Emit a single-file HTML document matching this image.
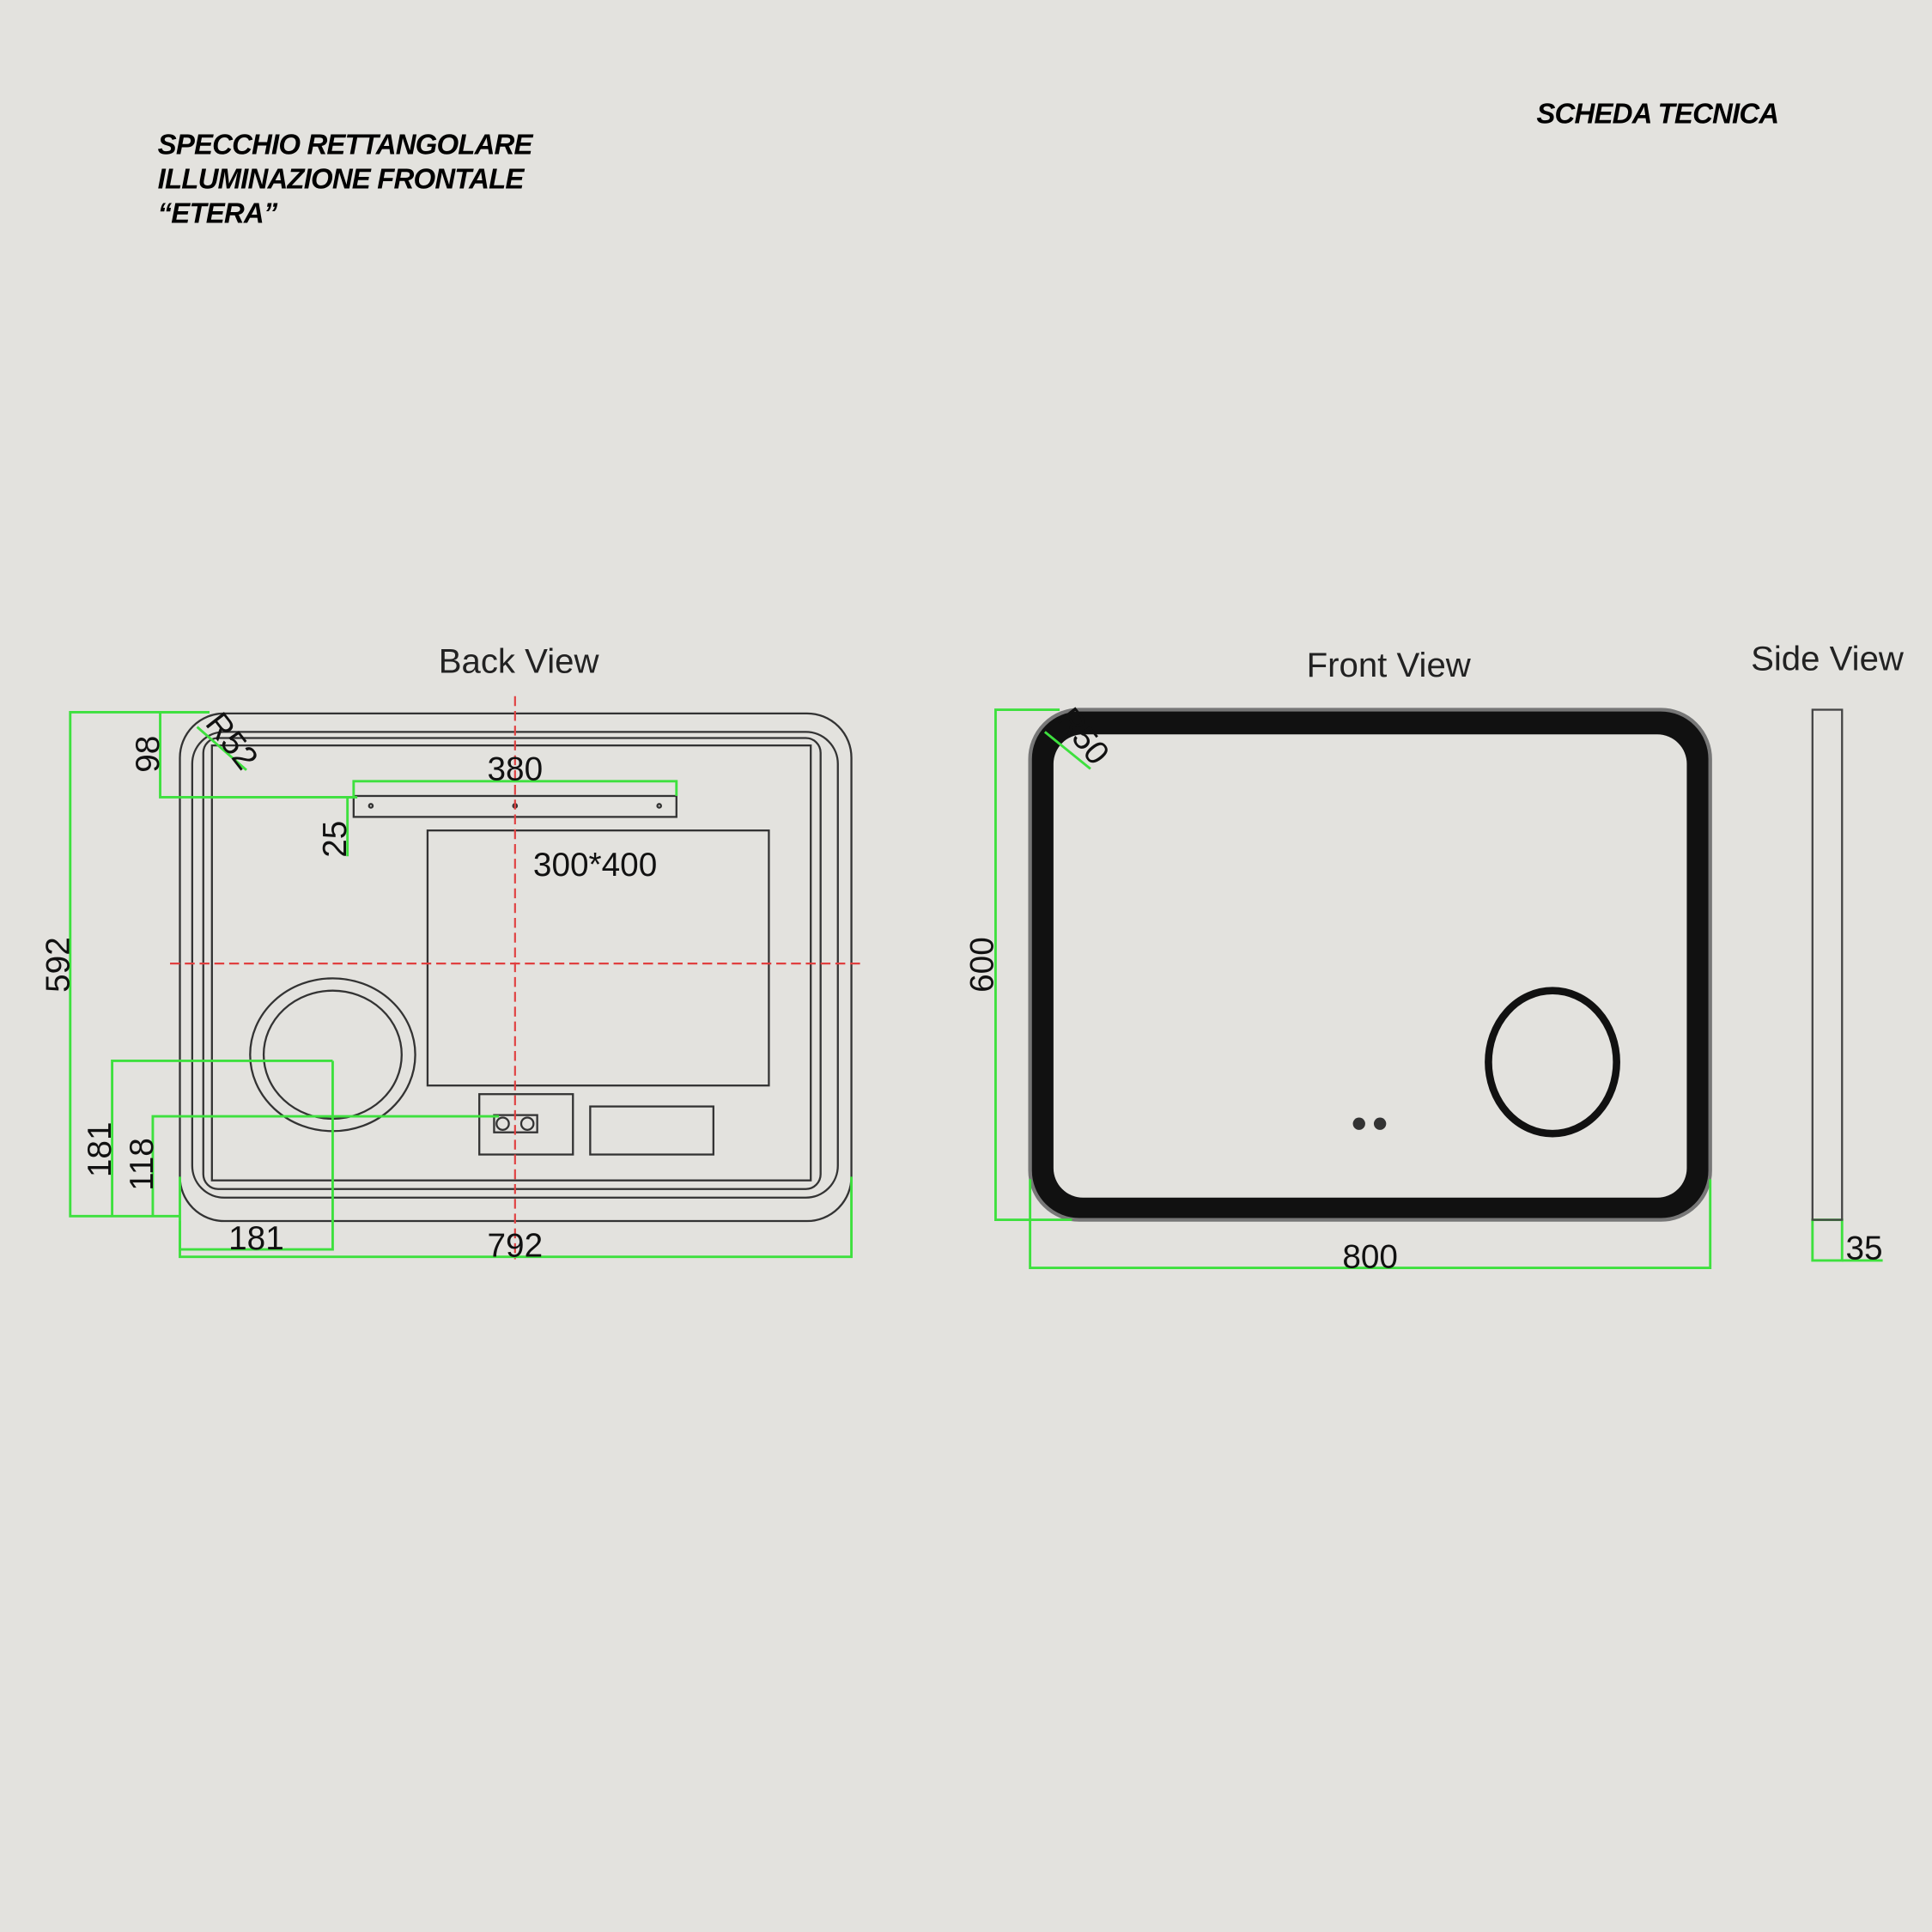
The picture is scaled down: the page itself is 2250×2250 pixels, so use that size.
<!DOCTYPE html>
<html><head><meta charset="utf-8"><style>
html,body{margin:0;padding:0;background:#e3e2de;}
svg{display:block}
text{font-family:"Liberation Sans",sans-serif;}
</style></head><body>
<svg width="2250" height="2250" viewBox="0 0 1568 1568" xmlns="http://www.w3.org/2000/svg">
<rect width="1568" height="1568" fill="#e3e2de"/>
<g font-style="italic" font-weight="bold" font-size="23" fill="#000" letter-spacing="-0.6">
<text x="128" y="125">SPECCHIO RETTANGOLARE</text>
<text x="128" y="153">ILLUMINAZIONE FRONTALE</text>
<text x="128" y="181">“ETERA”</text>
<text x="1247" y="100">SCHEDA TECNICA</text>
</g>
<g font-size="28" fill="#222" text-anchor="middle">
<text x="421" y="546">Back View</text>
<text x="1127" y="549">Front View</text>
<text x="1483" y="544">Side View</text>
</g>
<!-- Back view -->
<g fill="none" stroke="#333" stroke-width="1.6">
<rect x="146" y="579" width="545" height="412" rx="36"/>
<rect x="156" y="594" width="524" height="378" rx="26"/>
<rect x="165" y="599" width="501" height="366" rx="12"/>
<rect x="172" y="605" width="486" height="353"/>
<rect x="287" y="646" width="262" height="17"/>
<rect x="347" y="674" width="277" height="207"/>
<ellipse cx="270" cy="856" rx="67" ry="62"/>
<ellipse cx="270" cy="856" rx="56" ry="52"/>
<rect x="389" y="888" width="76" height="49"/>
<rect x="401" y="905" width="35" height="14"/>
<circle cx="408" cy="912" r="5"/>
<circle cx="428" cy="912" r="5"/>
<rect x="479" y="898" width="100" height="39"/>
<circle cx="301" cy="654" r="1.5"/><circle cx="418" cy="654" r="1.5"/><circle cx="535" cy="654" r="1.5"/>
</g>
<g stroke="#e04040" stroke-width="1.5" stroke-dasharray="8,4">
<line x1="418" y1="565" x2="418" y2="1022"/>
<line x1="138" y1="782" x2="698" y2="782"/>
</g>
<g stroke="#3ee03e" stroke-width="2" fill="none">
<polyline points="170,578 57,578 57,987 146,987"/>
<polyline points="170,578 130,578 130,647 290,647"/>
<polyline points="287,646 287,634 549,634 549,646"/>
<polyline points="287,647 282,647 282,695"/>
<polyline points="270,861 91,861 91,987"/>
<polyline points="405,906 124,906 124,987"/>
<polyline points="146,991 146,1014 270,1014 270,861"/>
<polyline points="146,955 146,1020 691,1020 691,955"/>
<line x1="160" y1="590" x2="200" y2="625"/>
</g>
<g font-size="27" fill="#111" text-anchor="middle">
<text x="418" y="633">380</text>
<text x="483" y="711">300*400</text>
<text x="208" y="1014">181</text>
<text x="418" y="1020">792</text>
<text transform="translate(56,783) rotate(-90)">592</text>
<text transform="translate(129,612) rotate(-90)">98</text>
<text transform="translate(281,681) rotate(-90)">25</text>
<text transform="translate(90,933) rotate(-90)">181</text>
<text transform="translate(124,945) rotate(-90)">118</text>
<text transform="translate(181,607) rotate(52)">R52</text>
</g>
<!-- Front view -->
<rect x="836" y="576" width="552" height="414" rx="40" fill="#111" stroke="#777" stroke-width="3"/>
<rect x="855" y="596" width="514" height="376" rx="24" fill="#e3e2de"/>
<ellipse cx="1260" cy="862" rx="52" ry="58" fill="none" stroke="#111" stroke-width="6"/>
<circle cx="1103" cy="912" r="5" fill="#333"/><circle cx="1120" cy="912" r="5" fill="#333"/>
<g stroke="#3ee03e" stroke-width="2" fill="none">
<polyline points="860,576 808,576 808,990 870,990"/>
<polyline points="836,957 836,1029 1388,1029 1388,957"/>
<line x1="848" y1="594" x2="885" y2="624"/>
<rect x="1471" y="990" width="24" height="33"/>
<line x1="1495" y1="1023" x2="1528" y2="1023"/>
</g>
<rect x="1471" y="576" width="24" height="414" fill="none" stroke="#444" stroke-width="1.6"/>
<g font-size="27" fill="#111" text-anchor="middle">
<text x="1112" y="1029">800</text>
<text x="1513" y="1022">35</text>
<text transform="translate(806,783) rotate(-90)">600</text>
<text transform="translate(872,603) rotate(52)">R50</text>
</g>
</svg>
</body></html>
